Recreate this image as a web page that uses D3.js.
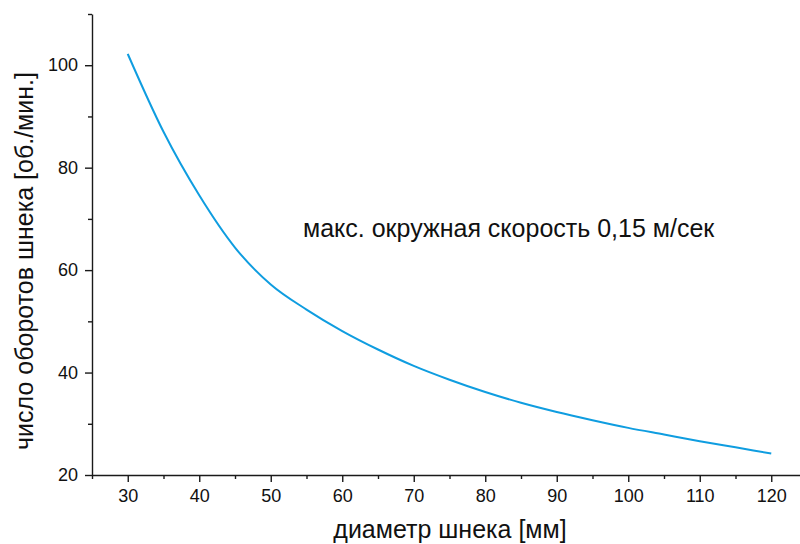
<!DOCTYPE html>
<html>
<head>
    <meta charset="utf-8">
    <title>Число оборотов шнека</title>
    <script src="https://d3js.org/d3.v7.min.js"></script>
    <style>
        body { margin: 0; background: #fff; }
        svg { display: block; font-family: "Liberation Sans", Arial, Helvetica, sans-serif; }
        .axis path, .axis line { stroke: #1a1a1a; stroke-width: 1.4px; }
        .axis text { font-size: 18px; fill: #111; font-family: "Liberation Sans", Arial, sans-serif; }
    </style>
</head>
<body>
<div id="output"></div>

<script type="text/javascript">

    // diameter of the screw, mm
    var diameters = [30, 35, 40, 45, 50, 55, 60, 65, 70, 75, 80, 85, 90, 95, 100, 105, 110, 115, 120];
    // revolutions per minute
    var rpm = [102.2, 87.0, 74.6, 64.4, 57.2, 52.3, 48.1, 44.5, 41.3, 38.6, 36.2, 34.1, 32.3, 30.7, 29.2, 27.9, 26.6, 25.4, 24.2];

    var xTicks = [30, 40, 50, 60, 70, 80, 90, 100, 110, 120];
    var xMinor = [25, 35, 45, 55, 65, 75, 85, 95, 105, 115, 125];
    var yTicks = [20, 40, 60, 80, 100];
    var yMinor = [30, 50, 70, 90, 110];

    var xTitle = "диаметр шнека [мм]";
    var yTitle = "число оборотов шнека [об./мин.]";
    var note = "макс. окружная скорость 0,15 м/сек";

    var w = 800, h = 544;

    var x = d3.scaleLinear().domain([25, 125]).range([92, 807]);
    var y = d3.scaleLinear().domain([20, 110]).range([475, 14]);

    var svg = d3.select("#output").append("svg")
        .attr("width", w)
        .attr("height", h);

    // minor ticks first, major axis over them
    svg.append("g")
        .attr("class", "axis")
        .attr("transform", "translate(0,475)")
        .call(d3.axisBottom(x).tickValues(xMinor).tickSize(4).tickFormat(""))
        .select(".domain").remove();

    svg.append("g")
        .attr("class", "axis")
        .attr("transform", "translate(92,0)")
        .call(d3.axisLeft(y).tickValues(yMinor).tickSize(4).tickFormat(""))
        .select(".domain").remove();

    svg.append("g")
        .attr("class", "axis")
        .attr("transform", "translate(0,475)")
        .call(d3.axisBottom(x).tickValues(xTicks).tickSize(7).tickSizeOuter(0).tickPadding(7));

    svg.append("g")
        .attr("class", "axis")
        .attr("transform", "translate(92,0)")
        .call(d3.axisLeft(y).tickValues(yTicks).tickSize(7).tickSizeOuter(0).tickPadding(7));

    var line = d3.line()
        .x(function(d, i) { return x(diameters[i]); })
        .y(function(d) { return y(d); })
        .curve(d3.curveMonotoneX);

    svg.append("path")
        .datum(rpm)
        .attr("fill", "none")
        .attr("stroke", "#0f9de0")
        .attr("stroke-width", 2)
        .attr("d", line);

    svg.append("text")
        .attr("x", 303)
        .attr("y", 237)
        .attr("font-size", 25)
        .attr("fill", "#111")
        .text(note);

    svg.append("text")
        .attr("x", 450)
        .attr("y", 538)
        .attr("text-anchor", "middle")
        .attr("font-size", 25)
        .attr("fill", "#111")
        .text(xTitle);

    svg.append("text")
        .attr("transform", "translate(33,261) rotate(-90)")
        .attr("text-anchor", "middle")
        .attr("font-size", 25)
        .attr("fill", "#111")
        .text(yTitle);

</script>
</body>
</html>
